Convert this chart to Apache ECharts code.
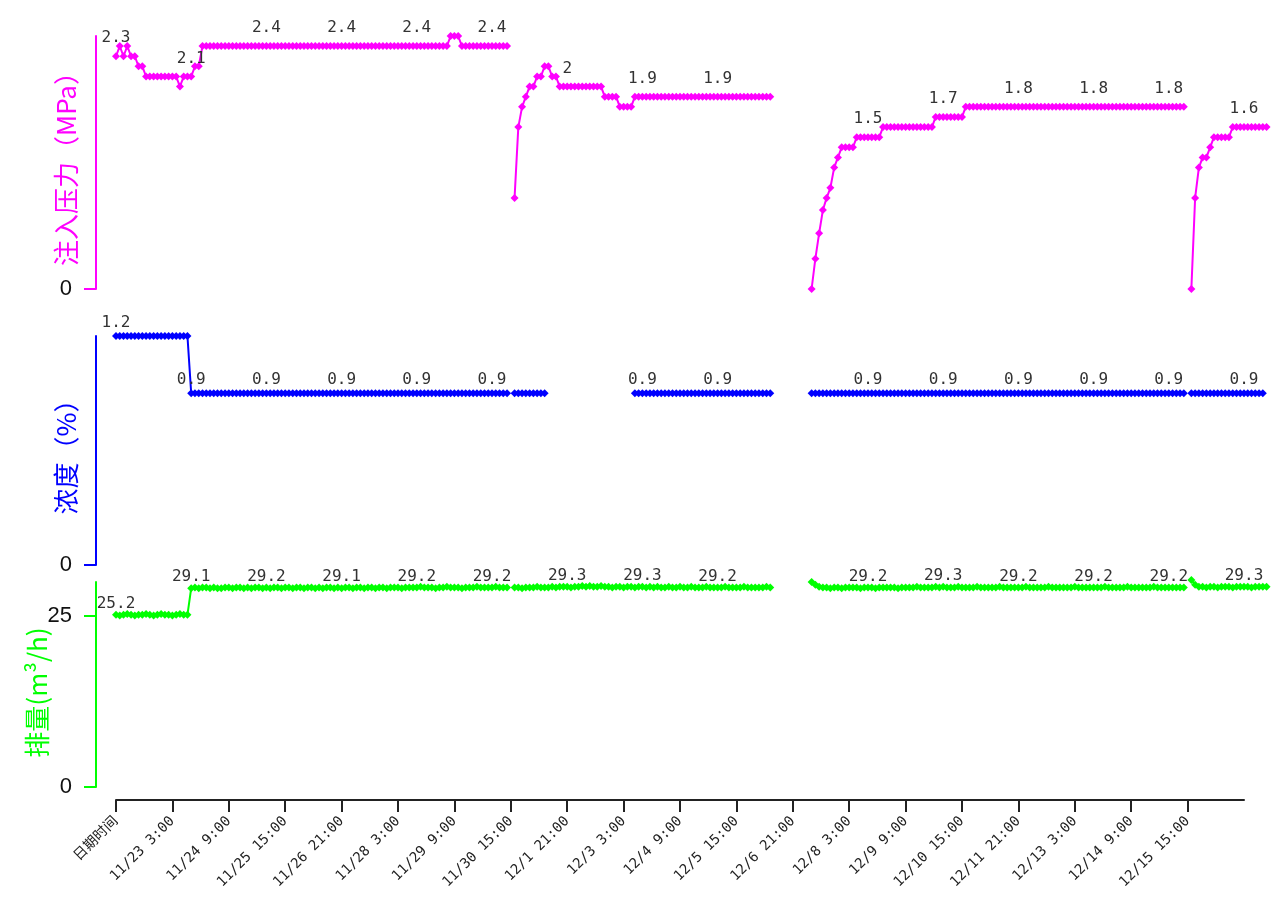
<!DOCTYPE html>
<html><head><meta charset="utf-8">
<script src="https://cdn.jsdelivr.net/npm/echarts@6/dist/echarts.min.js"></script>
<style>html,body{margin:0;padding:0;background:#fff}#c{width:1278px;height:912px}</style>
</head><body><div id="c"></div>
<script>
const n = null;
// x tick labels, one every 15 samples (samples every 2 hours)
const tickLabels = ['日期时间','11/23 3:00','11/24 9:00','11/25 15:00','11/26 21:00','11/28 3:00','11/29 9:00','11/30 15:00','12/1 21:00','12/3 3:00','12/4 9:00','12/5 15:00','12/6 21:00','12/8 3:00','12/9 9:00','12/10 15:00','12/11 21:00','12/13 3:00','12/14 9:00','12/15 15:00'];
// samples that carry a value label
const labelIdx = [0,20,40,60,80,100,120,140,160,180,200,220,240,260,280,300];

// 注入压力 (MPa)
const pressure = [
2.3,2.4,2.3,2.4,2.3,2.3,2.2,2.2,2.1,2.1,
2.1,2.1,2.1,2.1,2.1,2.1,2.1,2.0,2.1,2.1,
2.1,2.2,2.2,2.4,2.4,2.4,2.4,2.4,2.4,2.4,
2.4,2.4,2.4,2.4,2.4,2.4,2.4,2.4,2.4,2.4,
2.4,2.4,2.4,2.4,2.4,2.4,2.4,2.4,2.4,2.4,
2.4,2.4,2.4,2.4,2.4,2.4,2.4,2.4,2.4,2.4,
2.4,2.4,2.4,2.4,2.4,2.4,2.4,2.4,2.4,2.4,
2.4,2.4,2.4,2.4,2.4,2.4,2.4,2.4,2.4,2.4,
2.4,2.4,2.4,2.4,2.4,2.4,2.4,2.4,2.4,2.5,
2.5,2.5,2.4,2.4,2.4,2.4,2.4,2.4,2.4,2.4,
2.4,2.4,2.4,2.4,2.4,n,0.9,1.6,1.8,1.9,
2.0,2.0,2.1,2.1,2.2,2.2,2.1,2.1,2.0,2.0,
2.0,2.0,2.0,2.0,2.0,2.0,2.0,2.0,2.0,2.0,
1.9,1.9,1.9,1.9,1.8,1.8,1.8,1.8,1.9,1.9,
1.9,1.9,1.9,1.9,1.9,1.9,1.9,1.9,1.9,1.9,
1.9,1.9,1.9,1.9,1.9,1.9,1.9,1.9,1.9,1.9,
1.9,1.9,1.9,1.9,1.9,1.9,1.9,1.9,1.9,1.9,
1.9,1.9,1.9,1.9,1.9,n,n,n,n,n,
n,n,n,n,n,0,0.3,0.55,0.78,0.9,
1.0,1.2,1.3,1.4,1.4,1.4,1.4,1.5,1.5,1.5,
1.5,1.5,1.5,1.5,1.6,1.6,1.6,1.6,1.6,1.6,
1.6,1.6,1.6,1.6,1.6,1.6,1.6,1.6,1.7,1.7,
1.7,1.7,1.7,1.7,1.7,1.7,1.8,1.8,1.8,1.8,
1.8,1.8,1.8,1.8,1.8,1.8,1.8,1.8,1.8,1.8,
1.8,1.8,1.8,1.8,1.8,1.8,1.8,1.8,1.8,1.8,
1.8,1.8,1.8,1.8,1.8,1.8,1.8,1.8,1.8,1.8,
1.8,1.8,1.8,1.8,1.8,1.8,1.8,1.8,1.8,1.8,
1.8,1.8,1.8,1.8,1.8,1.8,1.8,1.8,1.8,1.8,
1.8,1.8,1.8,1.8,1.8,n,0,0.9,1.2,1.3,
1.3,1.4,1.5,1.5,1.5,1.5,1.5,1.6,1.6,1.6,
1.6,1.6,1.6,1.6,1.6,1.6,1.6
];

// 浓度 (%)
const concentration = [
1.2,1.2,1.2,1.2,1.2,1.2,1.2,1.2,1.2,1.2,
1.2,1.2,1.2,1.2,1.2,1.2,1.2,1.2,1.2,1.2,
0.9,0.9,0.9,0.9,0.9,0.9,0.9,0.9,0.9,0.9,
0.9,0.9,0.9,0.9,0.9,0.9,0.9,0.9,0.9,0.9,
0.9,0.9,0.9,0.9,0.9,0.9,0.9,0.9,0.9,0.9,
0.9,0.9,0.9,0.9,0.9,0.9,0.9,0.9,0.9,0.9,
0.9,0.9,0.9,0.9,0.9,0.9,0.9,0.9,0.9,0.9,
0.9,0.9,0.9,0.9,0.9,0.9,0.9,0.9,0.9,0.9,
0.9,0.9,0.9,0.9,0.9,0.9,0.9,0.9,0.9,0.9,
0.9,0.9,0.9,0.9,0.9,0.9,0.9,0.9,0.9,0.9,
0.9,0.9,0.9,0.9,0.9,n,0.9,0.9,0.9,0.9,
0.9,0.9,0.9,0.9,0.9,n,n,n,n,n,
n,n,n,n,n,n,n,n,n,n,
n,n,n,n,n,n,n,n,0.9,0.9,
0.9,0.9,0.9,0.9,0.9,0.9,0.9,0.9,0.9,0.9,
0.9,0.9,0.9,0.9,0.9,0.9,0.9,0.9,0.9,0.9,
0.9,0.9,0.9,0.9,0.9,0.9,0.9,0.9,0.9,0.9,
0.9,0.9,0.9,0.9,0.9,n,n,n,n,n,
n,n,n,n,n,0.9,0.9,0.9,0.9,0.9,
0.9,0.9,0.9,0.9,0.9,0.9,0.9,0.9,0.9,0.9,
0.9,0.9,0.9,0.9,0.9,0.9,0.9,0.9,0.9,0.9,
0.9,0.9,0.9,0.9,0.9,0.9,0.9,0.9,0.9,0.9,
0.9,0.9,0.9,0.9,0.9,0.9,0.9,0.9,0.9,0.9,
0.9,0.9,0.9,0.9,0.9,0.9,0.9,0.9,0.9,0.9,
0.9,0.9,0.9,0.9,0.9,0.9,0.9,0.9,0.9,0.9,
0.9,0.9,0.9,0.9,0.9,0.9,0.9,0.9,0.9,0.9,
0.9,0.9,0.9,0.9,0.9,0.9,0.9,0.9,0.9,0.9,
0.9,0.9,0.9,0.9,0.9,0.9,0.9,0.9,0.9,0.9,
0.9,0.9,0.9,0.9,0.9,n,0.9,0.9,0.9,0.9,
0.9,0.9,0.9,0.9,0.9,0.9,0.9,0.9,0.9,0.9,
0.9,0.9,0.9,0.9,0.9,0.9,n
];

// 排量 (m³/h)
const flow = [
25.2,25.1,25.2,25.3,25.2,25.1,25.2,25.2,25.3,25.2,
25.1,25.2,25.3,25.2,25.2,25.1,25.2,25.3,25.2,25.2,
29.1,29.2,29.1,29.2,29.2,29.1,29.2,29.1,29.1,29.2,
29.2,29.1,29.2,29.2,29.1,29.2,29.1,29.2,29.2,29.1,
29.2,29.1,29.2,29.2,29.1,29.2,29.2,29.1,29.2,29.2,
29.1,29.2,29.2,29.1,29.2,29.1,29.2,29.2,29.1,29.2,
29.1,29.2,29.2,29.1,29.2,29.2,29.1,29.2,29.2,29.1,
29.2,29.2,29.1,29.2,29.2,29.2,29.1,29.2,29.2,29.2,
29.2,29.3,29.2,29.2,29.2,29.1,29.2,29.2,29.3,29.2,
29.2,29.2,29.1,29.2,29.2,29.2,29.3,29.2,29.2,29.2,
29.2,29.3,29.2,29.2,29.2,n,29.2,29.2,29.1,29.2,
29.2,29.2,29.3,29.2,29.2,29.2,29.3,29.2,29.3,29.3,
29.3,29.2,29.3,29.3,29.4,29.3,29.4,29.3,29.3,29.4,
29.3,29.3,29.2,29.3,29.3,29.2,29.3,29.3,29.2,29.3,
29.3,29.2,29.3,29.2,29.3,29.2,29.2,29.3,29.2,29.2,
29.3,29.2,29.2,29.3,29.2,29.2,29.2,29.3,29.2,29.2,
29.2,29.2,29.3,29.2,29.2,29.2,29.2,29.3,29.2,29.2,
29.2,29.2,29.2,29.3,29.2,n,n,n,n,n,
n,n,n,n,n,30.0,29.6,29.3,29.2,29.2,
29.1,29.2,29.2,29.1,29.2,29.2,29.2,29.2,29.1,29.2,
29.2,29.2,29.1,29.2,29.2,29.2,29.2,29.2,29.1,29.2,
29.2,29.2,29.2,29.3,29.2,29.2,29.2,29.2,29.3,29.2,
29.3,29.2,29.2,29.2,29.3,29.2,29.2,29.2,29.2,29.3,
29.2,29.2,29.2,29.2,29.2,29.3,29.2,29.2,29.2,29.2,
29.2,29.2,29.3,29.2,29.2,29.2,29.2,29.2,29.3,29.2,
29.2,29.2,29.2,29.2,29.2,29.3,29.2,29.2,29.2,29.2,
29.2,29.2,29.2,29.3,29.2,29.2,29.2,29.2,29.2,29.3,
29.2,29.2,29.2,29.2,29.2,29.2,29.3,29.2,29.2,29.2,
29.2,29.2,29.2,29.2,29.2,n,30.3,29.6,29.3,29.3,
29.2,29.3,29.3,29.2,29.3,29.3,29.3,29.2,29.3,29.3,
29.3,29.3,29.2,29.3,29.3,29.3,29.3
];

const perTick = 15;          // samples between two x ticks
const axisSamples = 301;     // samples covered by the drawn x axis
const dataSamples = pressure.length;
const step = 1128 / (axisSamples - 1);

const catLabel = i => (i % perTick === 0 && tickLabels[i / perTick]) ? tickLabels[i / perTick] : '';
const dataCats = Array.from({length: dataSamples}, (_, i) => catLabel(i));
const axisCats = Array.from({length: axisSamples}, (_, i) => catLabel(i));
const showTick = i => i % perTick === 0 && i < tickLabels.length * perTick;

const monoFont = 'DejaVu Sans Mono, Noto Sans CJK SC, sans-serif';
const nameFont = 'Noto Sans CJK SC, sans-serif';
const dataW = step * (dataSamples - 1);

function yAxis(grid, max, color, name, vals, gap, pad) {
  return {
    type: 'value', gridIndex: grid, min: 0, max: max, offset: 20,
    splitLine: {show: false},
    axisLine: {show: true, lineStyle: {color: color, width: 2}},
    axisTick: {show: true, customValues: vals, length: 12, lineStyle: {color: color, width: 2}},
    axisLabel: {show: true, customValues: vals, fontSize: 22, color: '#111', fontFamily: 'Liberation Sans, Arial, sans-serif', margin: 24},
    name: name, nameLocation: 'middle', nameGap: gap, nameRotate: 90, nameMoveOverlap: false,
    nameTextStyle: {color: color, fontSize: 26, fontFamily: nameFont, padding: pad}
  };
}
function hiddenX(grid) {
  return {type: 'category', gridIndex: grid, data: dataCats, boundaryGap: false, show: false};
}
function lineSeries(idx, data, color, dist) {
  return {
    type: 'line', xAxisIndex: idx, yAxisIndex: idx, data: data,
    symbol: 'diamond', symbolSize: 8, showAllSymbol: true, connectNulls: false,
    clip: false, animation: false,
    lineStyle: {color: color, width: 2}, itemStyle: {color: color},
    label: {
      show: true, position: 'top', distance: dist, color: '#333', fontSize: 16, fontFamily: monoFont,
      formatter: p => (labelIdx.indexOf(p.dataIndex) >= 0 && p.value != null) ? String(p.value) : ''
    },
    emphasis: {disabled: true}
  };
}

const chart = echarts.init(document.getElementById('c'), null, {renderer: 'canvas'});
chart.setOption({
  backgroundColor: '#fff',
  animation: false,
  grid: [
    {left: 116, top: 36, width: dataW, height: 253},
    {left: 116, top: 336, width: dataW, height: 229},
    {left: 116, top: 582, width: dataW, height: 205},
    {left: 116, top: 700, width: 1128, height: 100}
  ],
  xAxis: [
    hiddenX(0), hiddenX(1), hiddenX(2),
    {
      type: 'category', gridIndex: 3, data: axisCats, boundaryGap: false,
      axisLine: {show: true, lineStyle: {color: '#222', width: 2}},
      axisTick: {show: true, interval: showTick, length: 12, lineStyle: {color: '#222', width: 2}},
      axisLabel: {show: true, interval: showTick, rotate: 45, fontSize: 14, color: '#222', fontFamily: monoFont, margin: 19}
    }
  ],
  yAxis: [
    yAxis(0, 2.5, '#ff00ff', '注入压力（MPa）', [0], 17, 0),
    yAxis(1, 1.2, '#0000ff', '浓度（%）', [0], 17, 0),
    yAxis(2, 30, '#00ff00', '排量(m³/h)', [0, 25], 46, [0, 16, 0, 0]),
    {type: 'value', gridIndex: 3, show: false, min: 0, max: 1}
  ],
  series: [
    lineSeries(0, pressure, '#ff00ff', 6),
    lineSeries(1, concentration, '#0000ff', 1),
    lineSeries(2, flow, '#00ff00', -1)
  ]
});
</script>
</body></html>
